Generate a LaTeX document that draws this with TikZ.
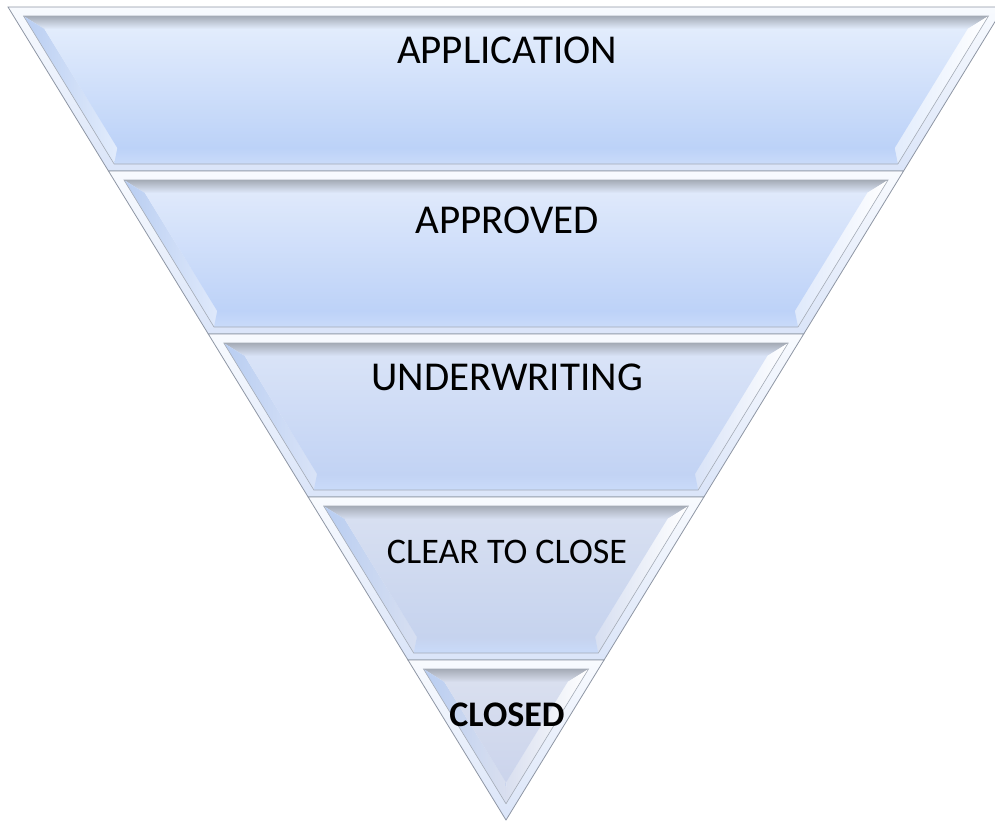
\documentclass[tikz,border=0pt]{standalone}
\usepackage{fontspec}
\setmainfont{Carlito}

\definecolor{edgegray}{HTML}{8E96A4}
\definecolor{faceAtop}{HTML}{E2ECFC}
\definecolor{faceAbot}{HTML}{BCD2F8}
\definecolor{faceBtop}{HTML}{DFE9FB}
\definecolor{faceBbot}{HTML}{BDD2F8}
\definecolor{faceCtop}{HTML}{D9E3F7}
\definecolor{faceCbot}{HTML}{C2D3F4}
\definecolor{faceDtop}{HTML}{D7DFF1}
\definecolor{faceDbot}{HTML}{C6D3EE}
\definecolor{faceEtop}{HTML}{D9DFEF}
\definecolor{faceEbot}{HTML}{CBD4EC}

\begin{document}
\begin{tikzpicture}[x=1pt,y=-1pt,
    stage/.style={anchor=base,inner sep=0pt,font=\fontsize{41}{49}\selectfont},
    smallstage/.style={anchor=base,inner sep=0pt,font=\fontsize{36}{43}\selectfont}]
        \clip (0,0) rectangle (995,822);

        % funnel bands: top, bottom, face top colour, face bottom colour
        \foreach \t/\b/\ct/\cb in {7/171/faceAtop/faceAbot, 171/334/faceBtop/faceBbot,
                                   334/497/faceCtop/faceCbot, 497/660/faceDtop/faceDbot,
                                   660/820/faceEtop/faceEbot}{
            \pgfmathsetmacro\hot{498-(\t-7)*0.6125}
            \pgfmathsetmacro\hob{max(498-(\b-7)*0.6125,0)}
            \pgfmathsetmacro\yit{\t+9}
            \pgfmathsetmacro\yib{min(\b-7,803.7)}
            \pgfmathsetmacro\hit{498-(\yit-7)*0.6125-10}
            \pgfmathsetmacro\hib{max(498-(\yib-7)*0.6125-10,0)}
            \pgfmathsetmacro\yft{\t+22}
            \pgfmathsetmacro\yfb{min(\b-23,782)}
            \pgfmathsetmacro\hft{498-(\yft-7)*0.6125-23}
            \pgfmathsetmacro\hfb{max(498-(\yfb-7)*0.6125-23,0)}

            \coordinate (otl) at ({506-\hot},\t);
            \coordinate (otr) at ({506+\hot},\t);
            \coordinate (obr) at ({506+\hob},\b);
            \coordinate (obl) at ({506-\hob},\b);
            \coordinate (itl) at ({506-\hit},\yit);
            \coordinate (itr) at ({506+\hit},\yit);
            \coordinate (ibr) at ({506+\hib},\yib);
            \coordinate (ibl) at ({506-\hib},\yib);
            \coordinate (ftl) at ({506-\hft},\yft);
            \coordinate (ftr) at ({506+\hft},\yft);
            \coordinate (fbr) at ({506+\hfb},\yfb);
            \coordinate (fbl) at ({506-\hfb},\yfb);

            % outer frame
            \shade[top color=white!75!faceAtop,bottom color=white!40!faceCbot]
                (otl) -- (otr) -- (obr) -- (obl) -- cycle;
            \draw[edgegray,line width=0.8pt] (otl) -- (otr) -- (obr) -- (obl) -- cycle;

            % bevels
            \shade[top color=edgegray!80,middle color=edgegray!25!white,bottom color=\ct]
                (itl) -- (itr) -- (ftr) -- (ftl) -- cycle;
            \shade[left color=faceAbot!92!edgegray,right color=\ct]
                (itl) -- (ftl) -- (fbl) -- (ibl) -- cycle;
            \shade[left color=\ct,right color=white]
                (itr) -- (ftr) -- (fbr) -- (ibr) -- cycle;
            \shade[top color=\cb,middle color=white,bottom color=faceAbot!80!white]
                (fbl) -- (fbr) -- (ibr) -- (ibl) -- cycle;

            % face
            \shade[top color=\ct,bottom color=\cb] (ftl) -- (ftr) -- (fbr) -- (fbl) -- cycle;
            \draw[edgegray!80,line width=0.6pt] (itl) -- (itr) -- (ibr) -- (ibl) -- cycle;
        }

        \node[stage] (app) at (507,63) {APPLICATION};
        \node[stage] (apr) at (507,233) {APPROVED};
        \node[stage] (uw) at (507,390) {UNDERWRITING};
        \node[smallstage] (ctc) at (507,563) {CLEAR TO CLOSE};
        \node[smallstage,font=\fontsize{36}{43}\selectfont\bfseries] (cls) at (507,726) {CLOSED};
\end{tikzpicture}
\end{document}
